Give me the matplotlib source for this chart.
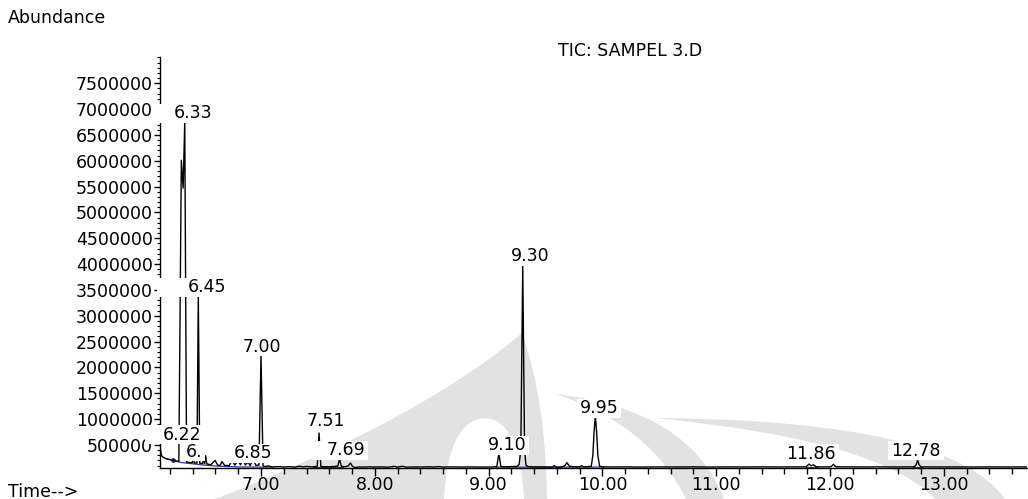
import matplotlib
matplotlib.use('Agg')
import matplotlib.pyplot as plt
import matplotlib.transforms as mtransforms
from matplotlib.patches import Rectangle, PathPatch
from matplotlib.path import Path

# TIC trace (retention time in min, abundance)
time = [6.112, 6.116, 6.121, 6.128, 6.140, 6.160, 6.190, 6.220, 6.250, 6.278,
        6.300, 6.316, 6.330, 6.346, 6.370, 6.396, 6.405, 6.414, 6.437, 6.449,
        6.462, 6.488, 6.497, 6.505, 6.514, 6.524, 6.560, 6.596, 6.620, 6.640,
        6.657, 6.680, 6.720, 6.745, 6.770, 6.798, 6.820, 6.842, 6.862, 6.886,
        6.905, 6.930, 6.955, 6.982, 7.000, 7.018, 7.040, 7.060, 7.100, 7.150,
        7.200, 7.250, 7.300, 7.340, 7.370, 7.400, 7.440, 7.494, 7.510, 7.526,
        7.580, 7.620, 7.650, 7.674, 7.690, 7.706, 7.740, 7.765, 7.786, 7.805,
        7.830, 7.860, 7.900, 7.950, 8.000, 8.060, 8.120, 8.170, 8.200, 8.240,
        8.280, 8.350, 8.420, 8.480, 8.520, 8.560, 8.600, 8.680, 8.760, 8.850,
        8.950, 9.030, 9.072, 9.090, 9.108, 9.150, 9.200, 9.250, 9.268, 9.283,
        9.300, 9.316, 9.328, 9.345, 9.400, 9.460, 9.520, 9.560, 9.578, 9.595,
        9.640, 9.668, 9.688, 9.710, 9.760, 9.800, 9.818, 9.836, 9.902, 9.916,
        9.927, 9.938, 9.949, 9.960, 9.975, 10.00, 10.08, 10.20, 10.35, 10.50,
        10.65, 10.80, 10.95, 11.10, 11.25, 11.40, 11.55, 11.70, 11.790, 11.815,
        11.835, 11.855, 11.878, 11.950, 12.010, 12.030, 12.050, 12.150, 12.300, 12.450,
        12.600, 12.740, 12.758, 12.770, 12.782, 12.800, 12.950, 13.100, 13.250, 13.400,
        13.550, 13.731]
abundance = [500000, 430000, 340000, 290000, 262000, 240000, 220000, 205000, 192000, 182000,
             6010000, 5470000, 6750000, 168000, 160000, 155000, 330000, 152000, 148000, 3400000,
             145000, 140000, 300000, 138000, 290000, 132000, 118000, 200000, 110000, 100000,
             180000, 105000, 98000, 200000, 110000, 190000, 115000, 230000, 110000, 170000,
             100000, 220000, 105000, 110000, 2240000, 95000, 80000, 95000, 75000, 80000,
             74000, 78000, 73000, 88000, 74000, 85000, 75000, 85000, 731000, 82000,
             78000, 80000, 84000, 90000, 228000, 86000, 80000, 92000, 150000, 82000,
             62000, 74000, 72000, 76000, 73000, 76000, 70000, 86000, 72000, 88000,
             70000, 75000, 73000, 78000, 72000, 82000, 72000, 76000, 73000, 75000,
             72000, 74000, 78000, 333000, 80000, 77000, 80000, 85000, 120000, 400000,
             3960000, 400000, 110000, 82000, 76000, 74000, 73000, 72000, 100000, 66000,
             75000, 95000, 157000, 88000, 78000, 76000, 98000, 76000, 85000, 300000,
             760000, 1060000, 760000, 300000, 90000, 76000, 74000, 75000, 73000, 75000,
             74000, 76000, 73000, 75000, 74000, 76000, 74000, 75000, 76000, 130000,
             98000, 115000, 78000, 75000, 78000, 125000, 77000, 75000, 74000, 76000,
             74000, 76000, 120000, 209000, 120000, 76000, 74000, 75000, 73000, 75000,
             74000, 75000]

# integration baselines (blue)
base1_t = [6.165, 6.23, 6.30, 6.40, 6.50, 6.62, 6.80, 7.10]
base1_a = [235000, 200000, 160000, 135000, 110000, 90000, 75000, 70000]
base2_t = [7.46, 7.72]
base2_a = [76000, 76000]
base3_t = [9.06, 9.60, 10.02]
base3_a = [72000, 71000, 72000]
base4_t = [11.79, 11.89]
base4_a = [74000, 74000]
base5_t = [12.73, 12.81]
base5_a = [74000, 74000]

# peak labels and where they sit
peak_labels = ['6.22', '6.', '6.33', '6.45', '6.85', '7.00', '7.51', '7.69',
               '9.10', '9.30', '9.95', '11.86', '12.78']
label_t = [6.306, 6.411, 6.402, 6.525, 6.930, 7.009, 7.571, 7.747,
           9.162, 9.364, 9.970, 11.833, 12.756]
label_a = [693000, 364000, 6920000, 3556000, 344000, 2396000, 964000, 402000,
           499000, 4156000, 1215000, 325000, 383000]
# extra white space left of some labels (px), where the box hides the axis
box_extra_left = [15, 0, 17, 28, 6, 0, 0, 12, 6, 0, 0, 0, 0]

y_ticks = list(range(500000, 7500001, 500000))
x_ticks = [7, 8, 9, 10, 11, 12, 13]

FS = 12.5
fig = plt.figure(figsize=(10.28, 4.99), dpi=100)

# faint watermark in the background (figure pixels, y downward)
px = mtransforms.Affine2D().scale(1 / 1028, -1 / 499).translate(0, 1) + fig.transFigure
wm = '#e2e2e2'
M, C, L, Z = Path.MOVETO, Path.CURVE3, Path.LINETO, Path.CLOSEPOLY
wm_paths = [
    ([(215, 499), (420, 420), (522, 333), (546, 400), (547, 499), (524, 499),
      (520, 420), (485, 418), (448, 420), (444, 499), (215, 499)],
     [M, C, C, C, C, L, C, C, C, C, Z]),
    ([(556, 394), (690, 410), (724, 499), (686, 499), (650, 425), (556, 394), (556, 394)],
     [M, C, C, L, C, C, Z]),
    ([(655, 418), (950, 420), (1005, 499), (935, 499), (880, 440), (655, 418), (655, 418)],
     [M, C, C, L, C, C, Z]),
]
for verts, codes in wm_paths:
    fig.add_artist(PathPatch(Path(verts, codes), transform=px, fc=wm, ec='none', zorder=-10))

ax = fig.add_axes([160 / 1028, 31 / 499, 867 / 1028, 411.3 / 499])
ax.patch.set_alpha(0)

ax.plot(time, abundance, color='black', lw=1.0, zorder=3)
for bt, ba in [(base1_t, base1_a), (base2_t, base2_a), (base3_t, base3_a),
               (base4_t, base4_a), (base5_t, base5_a)]:
    ax.plot(bt, ba, color='#3434a8', lw=0.9, zorder=2)
ax.plot([6.23], [200000], 'o', color='#3434a8', ms=2.5, zorder=2)

ax.set_xlim(6.1125, 13.731)
ax.set_ylim(54000, 8.013e6)

for side in ['top', 'right']:
    ax.spines[side].set_visible(False)
for side in ['left', 'bottom']:
    ax.spines[side].set_linewidth(1.0)

ax.set_xticks(x_ticks)
ax.set_xticklabels(['%.2f' % v for v in x_ticks], fontsize=FS)
minor_x = [round(6.2 + 0.2 * i, 1) for i in range(38)]
ax.set_xticks([v for v in minor_x if abs(v - round(v)) > 0.05], minor=True)
ax.set_yticks(y_ticks)
ax.set_yticklabels([str(v) for v in y_ticks], fontsize=FS)
ax.set_yticks(list(range(100000, 8000001, 100000)), minor=True)
ax.tick_params(axis='x', which='major', length=6, width=1, pad=0)
ax.tick_params(axis='x', which='minor', length=4, width=1)
ax.tick_params(axis='y', which='major', length=4, width=1, pad=1)
ax.tick_params(axis='y', which='minor', length=2.5, width=0.8)

# labels with white boxes that hide whatever lies below them
texts = []
for s, t, a in zip(peak_labels, label_t, label_a):
    texts.append(ax.text(t, a, s, ha='center', va='center', fontsize=FS,
                         zorder=6, clip_on=False))
fig.canvas.draw()
renderer = fig.canvas.get_renderer()
inv = ax.transData.inverted()
for txt, extra in zip(texts, box_extra_left):
    bb = txt.get_window_extent(renderer)
    cy = (bb.y0 + bb.y1) / 2
    x0, y0 = inv.transform((bb.x0 - 3 - extra, cy - 9.5))
    x1, y1 = inv.transform((bb.x1 + 3, cy + 9.5))
    ax.add_patch(Rectangle((x0, y0), x1 - x0, y1 - y0, fc='white', ec='none',
                           zorder=5, clip_on=False))

fig.text(8 / 1028, 1 - 18 / 499, 'Abundance', ha='left', va='center', fontsize=FS)
fig.text(630 / 1028, 1 - 51 / 499, 'TIC: SAMPEL 3.D', ha='center', va='center', fontsize=FS)
fig.text(8 / 1028, 1 - 492 / 499, 'Time-->', ha='left', va='center', fontsize=FS)

fig.savefig('out.png', dpi=100)
